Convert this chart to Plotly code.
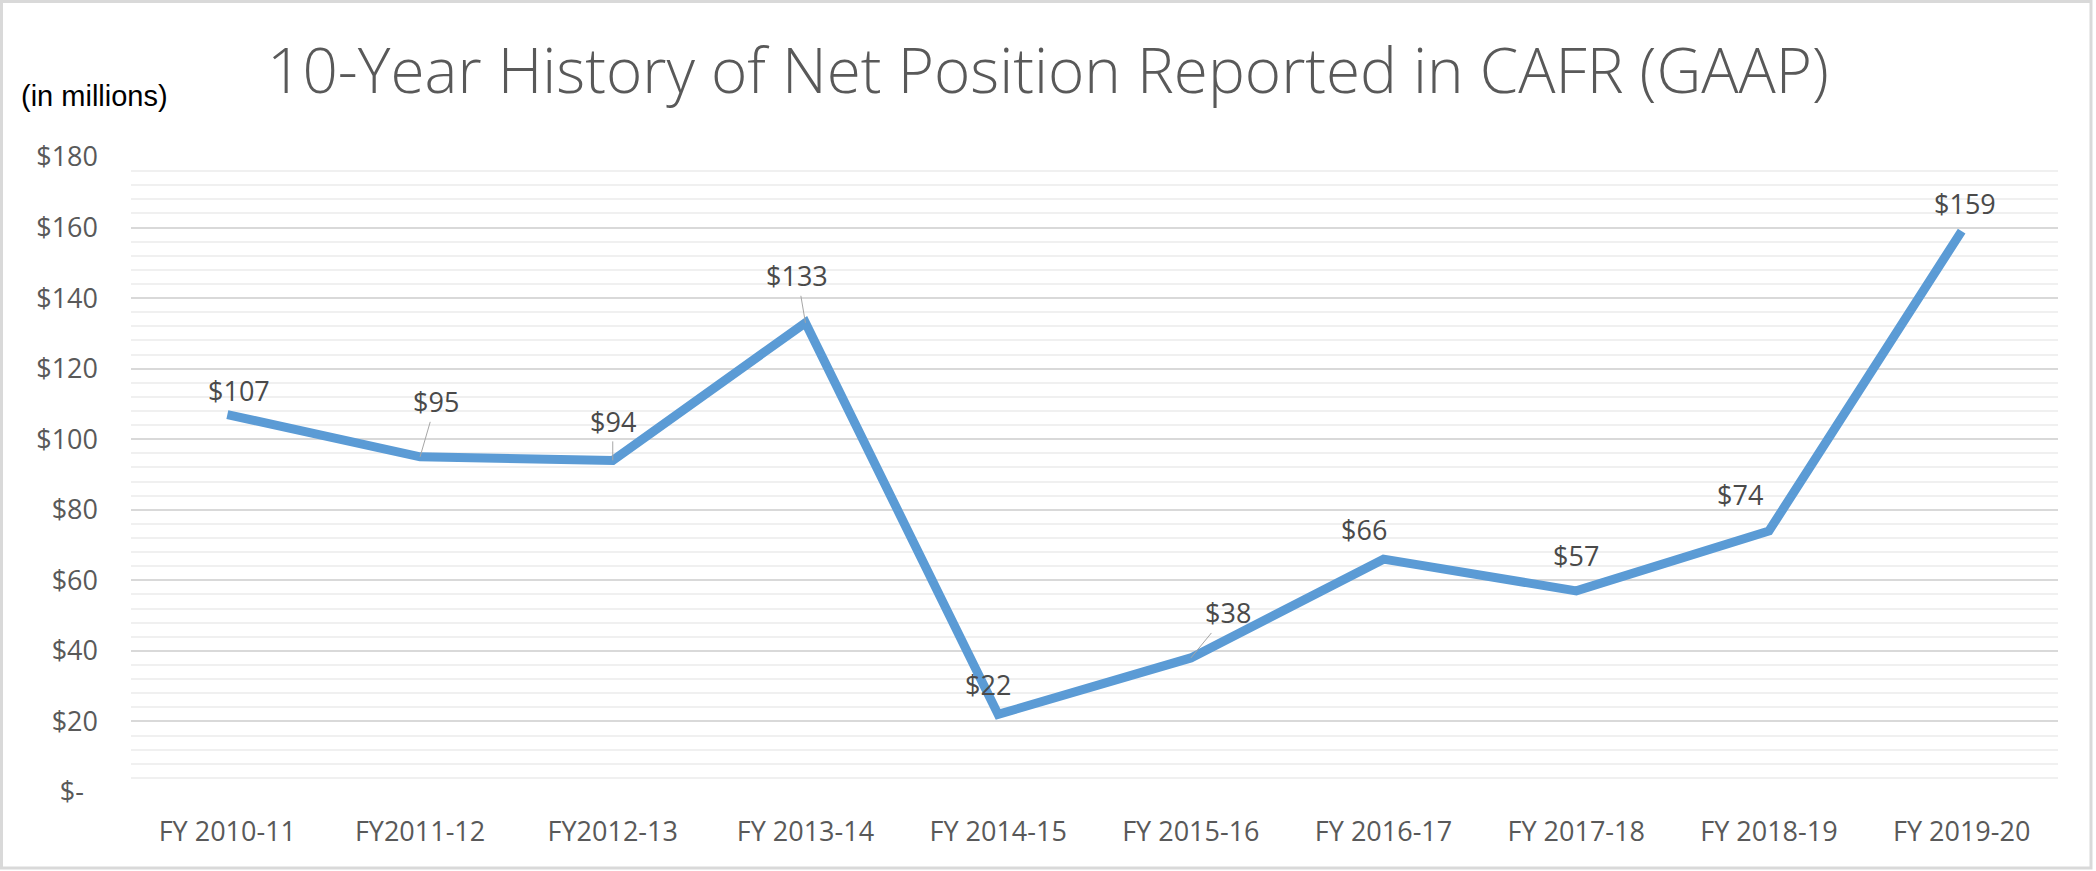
import plotly.graph_objects as go

# Fiscal years and net position (in millions of dollars)
fiscal_years = [
    "FY 2010-11", "FY2011-12", "FY2012-13", "FY 2013-14", "FY 2014-15",
    "FY 2015-16", "FY 2016-17", "FY 2017-18", "FY 2018-19", "FY 2019-20",
]
net_position = [107, 95, 94, 133, 22, 38, 66, 57, 74, 159]

# Y-axis ticks in accounting style
y_ticks = [0, 20, 40, 60, 80, 100, 120, 140, 160, 180]
y_tick_text = ["$-\u00a0\u00a0" if v == 0 else f"${v}" for v in y_ticks]

# Data label placement: (dx, dy) pixel offset of label centre from its point,
# and whether a leader line joins the label to the point
label_offsets = [
    (12, -24, False), (16, -55, True), (0, -39, True), (-8, -47, True),
    (-10, -30, False), (37, -45, True), (-20, -30, False), (0, -35, False),
    (-29, -36, False), (3, -28, False),
]

W, H = 2096, 871
L, R, T, B = 131, 2058, 157, 792


def px_x(px):
    return (px - L) / (R - L)


def px_y(py):
    return (B - py) / (B - T)


LABEL_FONT = "Open Sans"

fig = go.Figure()
fig.add_trace(go.Scatter(
    x=fiscal_years,
    y=net_position,
    mode="lines",
    line=dict(color="#5B9BD5", width=9),
    hoverinfo="skip",
))

annotations = []
for cat, val, (dx, dy, leader) in zip(fiscal_years, net_position, label_offsets):
    common = dict(
        x=cat, y=val, xref="x", yref="y",
        text=f"${val}",
        font=dict(family=LABEL_FONT, size=27, color="#4a4a4a"),
    )
    if leader:
        annotations.append(dict(
            **common, showarrow=True, arrowhead=0, arrowwidth=1,
            arrowcolor="#a6a6a6", ax=dx, ay=dy, standoff=0,
        ))
    else:
        annotations.append(dict(
            **common, showarrow=False, xanchor="center", yanchor="middle",
            xshift=dx, yshift=-dy,
        ))

annotations.append(dict(
    text="(in millions)", xref="paper", yref="paper",
    x=px_x(19), y=px_y(96), xanchor="left", yanchor="middle",
    showarrow=False,
    font=dict(family="Liberation Sans", size=29, color="#000000"),
))

fig.update_layout(
    width=W, height=H,
    margin=dict(l=L, r=W - R, t=T, b=H - B, pad=0),
    paper_bgcolor="white",
    plot_bgcolor="white",
    showlegend=False,
    title=dict(
        text="10-Year History of Net Position Reported in CAFR (GAAP)",
        x=0.5, xref="container", xanchor="center",
        y=1 - 71 / H, yref="container", yanchor="middle",
        font=dict(family=LABEL_FONT, size=62, color="#595959", weight=300),
    ),
    xaxis=dict(
        type="category",
        range=[-0.5, len(fiscal_years) - 0.5],
        showgrid=False, zeroline=False, showline=False,
        ticks="", ticklabelstandoff=21,
        tickfont=dict(family=LABEL_FONT, size=27, color="#595959"),
    ),
    yaxis=dict(
        range=[0, 180],
        tickvals=y_ticks, ticktext=y_tick_text,
        showgrid=True, gridcolor="#d9d9d9", gridwidth=1.5,
        zeroline=False, showline=False,
        ticks="", ticklabelstandoff=32,
        tickfont=dict(family=LABEL_FONT, size=27, color="#595959"),
        minor=dict(dtick=4, showgrid=True, gridcolor="#f0f0f0", gridwidth=1.5),
    ),
    annotations=annotations,
    shapes=[dict(
        type="rect", xref="paper", yref="paper",
        x0=px_x(1.5), x1=px_x(2091), y0=px_y(868), y1=px_y(1.5),
        line=dict(color="#d9d9d9", width=3), fillcolor="rgba(0,0,0,0)",
        layer="below",
    )],
)

fig.write_html("out.html", config={"responsive": False, "displayModeBar": False})
